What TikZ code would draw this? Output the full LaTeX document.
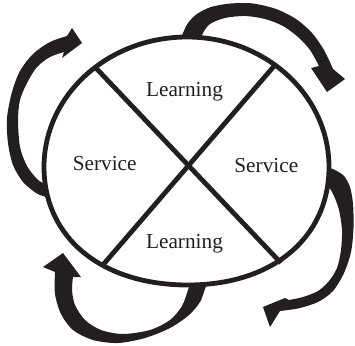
\documentclass[tikz,border=0pt]{standalone}
\usepackage{fontspec}
\setmainfont{Liberation Serif}
\definecolor{ink}{RGB}{35,31,32}

\begin{document}
\begin{tikzpicture}[x=1pt,y=-1pt,
    loopfill/.style={fill=ink},
    rimline/.style={draw=ink,line width=4.8pt},
    quadlabel/.style={anchor=base,inner sep=0pt,text=ink,font=\fontsize{21.3}{25}\selectfont}]
  \useasboundingbox (0,0) rectangle (355,345);

  \fill[loopfill] plot[smooth] coordinates {(178,44) (183,33) (188,23) (197,14) (211,7) (231,3.5) (253,3.5) (276,9) (296,19) (312,33) (324,50) (333,69)}
    -- (345,79) -- (327,92) -- (311,68)
    -- plot[smooth] coordinates {(319,66) (310,50) (298,37) (283,26) (265,19) (245,16) (225,18) (210,24) (203,33) (199,44)} -- cycle;
  \fill[loopfill] plot[smooth] coordinates {(52,199) (43,196) (36,193) (23,182) (13,165) (8,143) (7,118) (12,92) (20,71) (33,54) (50,42) (67,36)}
    -- (72,28) -- (82,43) -- (62,58)
    -- plot[smooth] coordinates {(64,52) (50,57) (37,67) (27,83) (20,100) (18,120) (20,147) (27,166) (37,179) (43,183) (52,186)} -- cycle;
  \fill[loopfill] plot[smooth] coordinates {(320,168) (329,168) (335,170) (344,176) (350,187) (353,204) (353.5,228) (351,252) (344,273) (333,291) (318,302) (300,308) (288,310) (280,311)}
    -- (270,327) -- (263,307) -- (285,298)
    -- plot[smooth] coordinates {(289,300) (303,297) (318,291) (329,281) (337,268) (341,250) (342,230) (339,210) (334,196) (329,188) (320,188)} -- cycle;
  \fill[loopfill] plot[smooth] coordinates {(210,276) (205,289) (200,302) (189,315) (170,328) (145,338) (118,343) (93,340) (73,330) (61,314) (55,294) (55,272)}
    -- (43,267) -- (63,253) -- (81,277)
    -- plot[smooth] coordinates {(73,277) (72,290) (75,305) (85,320) (101,330) (123,334) (150,330) (170,320) (182,306) (188,290) (193,276)} -- cycle;

  \coordinate (top) at (187,37);
  \coordinate (rgt) at (329,167);
  \coordinate (bot) at (188,285);
  \coordinate (lft) at (44,167);
  \draw[rimline,fill=white] (lft) .. controls (44,95.2) and (108,37) .. (top)
    .. controls (265.4,37) and (329,95.2) .. (rgt)
    .. controls (329,237.8) and (272.6,285) .. (bot)
    .. controls (101.6,285) and (44,237.8) .. (lft) -- cycle;

  \coordinate (ul) at (95,67);
  \coordinate (lr) at (281,263);
  \coordinate (ur) at (275,65);
  \coordinate (ll) at (102,266);
  \draw[rimline] (ul) -- (lr);
  \draw[rimline] (ur) -- (ll);

  \node[quadlabel] (learnTop) at (184.5,96.7) {Learning};
  \node[quadlabel] (serviceLeft) at (104.7,170) {Service};
  \node[quadlabel] (serviceRight) at (266.3,172) {Service};
  \node[quadlabel] (learnBottom) at (184.5,248) {Learning};
\end{tikzpicture}
\end{document}
